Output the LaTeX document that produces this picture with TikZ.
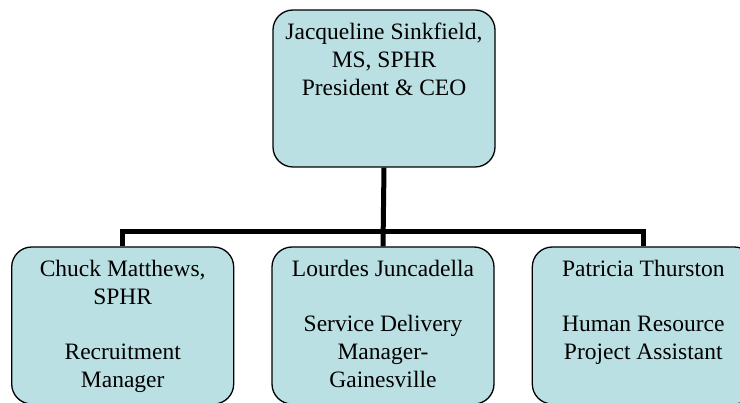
\documentclass[tikz,border=0pt]{standalone}
\usepackage{fontspec}
\setmainfont{Liberation Serif}
\newfontfamily\kastenschrift{Liberation Serif}
\usepackage{xcolor}
\usepackage{tikz}
\usetikzlibrary{positioning}

\definecolor{kastenblau}{RGB}{186,224,227}
\newcommand{\kastentext}[1]{\parbox[t][157pt][t]{214pt}{\centering\rule{0pt}{30pt}#1}}

\begin{document}
\begin{tikzpicture}
                    [
                        x=1pt, y=-1pt,
                        kasten/.style={draw, fill=kastenblau, line width=1.3pt, rounded corners=20pt,
                            inner sep=0pt, minimum width=222pt, minimum height=157pt,
                            font=\kastenschrift\fontsize{23.5}{28}\selectfont},
                        linie/.style={line width=5pt, line join=miter}
                    ]
                    
                    % Rahmen
                    \useasboundingbox (0,0) rectangle (740,403);
                    \clip (0,0) rectangle (740,403);
                    
                    \node[kasten] (ceo) at (384,88.5)
                        {\kastentext{Jacqueline Sinkfield,\\ MS, SPHR\\ President \& CEO}};
                    \node[kasten] (mitte) at (383,325.5)
                        {\kastentext{Lourdes Juncadella\\[27pt] Service Delivery\\ Manager-\\ Gainesville}};
                    \node[kasten, left=37pt of mitte] (links)
                        {\kastentext{Chuck Matthews,\\ SPHR\\[27pt] Recruitment\\ Manager}};
                    \node[kasten, right=37pt of mitte] (rechts)
                        {\kastentext{Patricia Thurston\\[27pt] Human Resource\\ Project Assistant}};
                    
                    % Verbindungen
                    \coordinate (schiene) at ([yshift=-64pt]ceo.south);
                    \draw[linie] (ceo.south) -- (mitte.north);
                    \draw[linie] (links.north) |- (schiene) -| (rechts.north);
                \end{tikzpicture}
\end{document}
